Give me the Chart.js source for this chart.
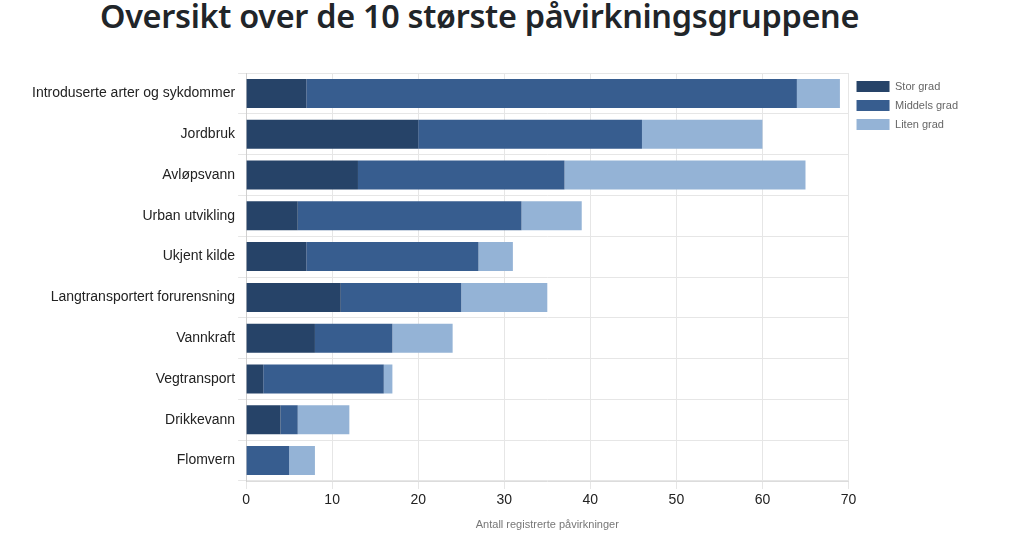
<!DOCTYPE html>
<html>
<head>
<meta charset="utf-8">
<script src="https://cdn.jsdelivr.net/npm/chart.js@4/dist/chart.umd.min.js"></script>
<style>
    body { margin: 0; background: #fff; width: 1023px; height: 538px; overflow: hidden; position: relative; }
    #tittel {
        position: absolute; left: 100px; top: -7px; margin: 0;
        font-family: "Noto Sans", sans-serif; font-weight: 600; font-size: 32.4px;
        color: #212529; white-space: nowrap; letter-spacing: -0.3px;
    }
    #boks { position: absolute; left: 0; top: 60px; width: 968px; height: 478px; }
</style>
</head>
<body>
<h1 id="tittel">Oversikt over de 10 største påvirkningsgruppene</h1>
<div id="boks"><canvas id="chart01"></canvas></div>
<script>
const kategorier = ['Introduserte arter og sykdommer', 'Jordbruk', 'Avløpsvann', 'Urban utvikling', 'Ukjent kilde',
    'Langtransportert forurensning', 'Vannkraft', 'Vegtransport', 'Drikkevann', 'Flomvern'];
const storGrad = [7, 20, 13, 6, 7, 11, 8, 2, 4, 0];
const middelsGrad = [57, 26, 24, 26, 20, 14, 9, 14, 2, 5];
const litenGrad = [5, 14, 28, 7, 4, 10, 7, 1, 6, 3];
const xTicks = [0, 10, 20, 30, 40, 50, 60, 70];

const ctx01 = document.getElementById('chart01');

const dataChart = {
    labels: kategorier,
    datasets: [
        { label: 'Stor grad', data: storGrad, backgroundColor: '#264368' },
        { label: 'Middels grad', data: middelsGrad, backgroundColor: '#375d8f' },
        { label: 'Liten grad', data: litenGrad, backgroundColor: '#94b3d6' }
    ]
};

const chart = new Chart(ctx01, {
    type: 'bar',
    data: dataChart,
    options: {
        indexAxis: 'y',
        responsive: true,
        maintainAspectRatio: false,
        animation: false,
        datasets: { bar: { barPercentage: 0.71, categoryPercentage: 1 } },
        layout: { padding: { left: 29, top: 13, right: 0, bottom: 2 } },
        plugins: {
            legend: {
                position: 'right',
                align: 'start',
                labels: {
                    boxWidth: 33, boxHeight: 11, padding: 8,
                    color: '#666', font: { family: 'Liberation Sans, Arial', size: 11 }
                }
            },
            tooltip: { enabled: false }
        },
        scales: {
            x: {
                stacked: true,
                min: 0, max: 70,
                afterBuildTicks: (axis) => { axis.ticks = xTicks.map(v => ({ value: v })); },
                grid: { color: '#e6e6e6' },
                border: { color: '#dcdcdc' },
                ticks: { color: '#222', font: { family: 'Liberation Sans, Arial', size: 14 } },
                title: {
                    display: true, text: 'Antall registrerte påvirkninger',
                    color: '#777', font: { family: 'Liberation Sans, Arial', size: 11 }, padding: { top: 7 }
                }
            },
            y: {
                stacked: true,
                grid: { color: '#e6e6e6', offset: true },
                border: { color: '#d0d0d0' },
                ticks: { color: '#222', font: { family: 'Liberation Sans, Arial', size: 14 } }
            }
        }
    }
});
</script>
</body>
</html>
